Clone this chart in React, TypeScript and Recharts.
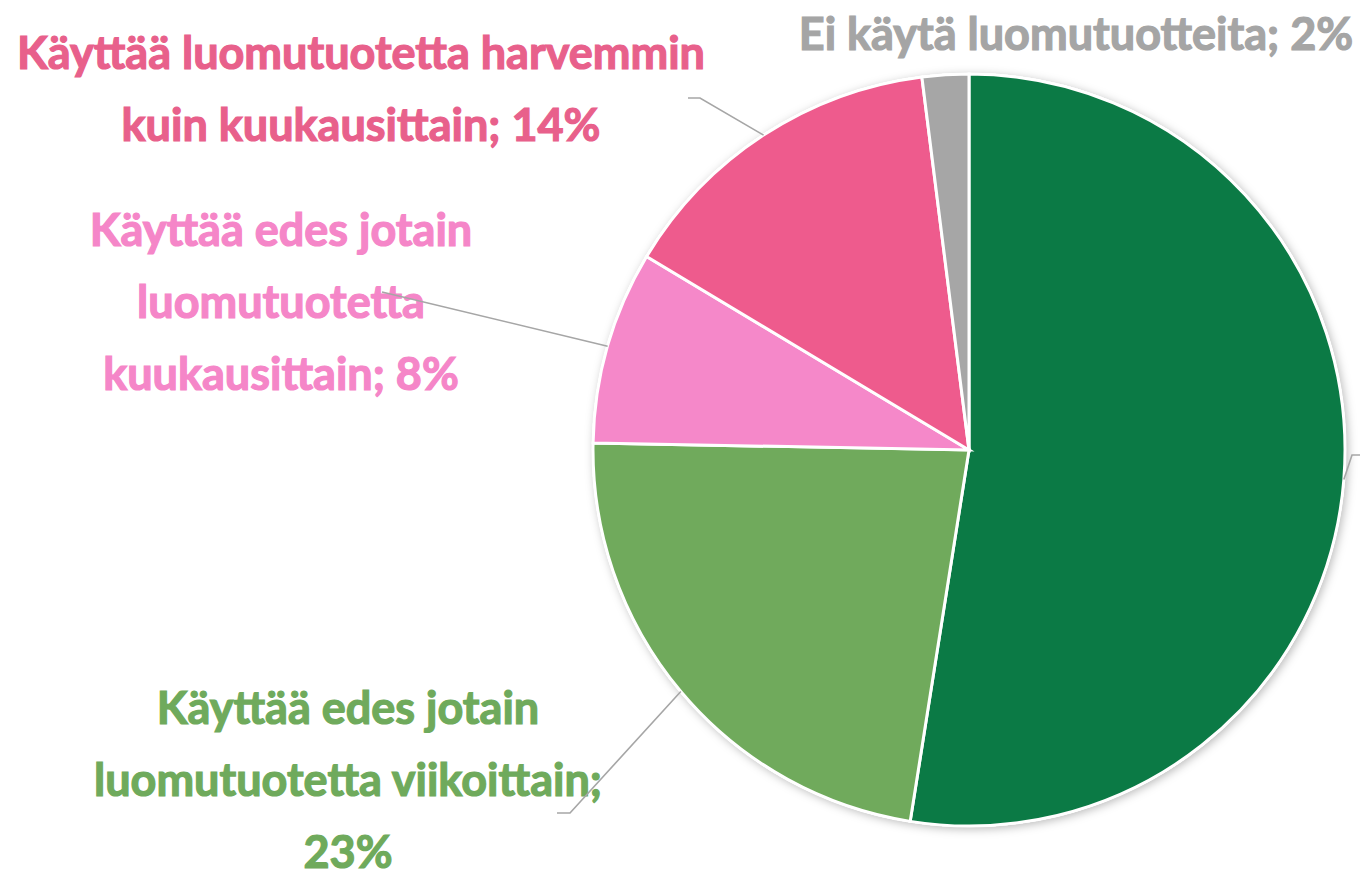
import React from 'react';
import { PieChart, Pie, Cell } from 'recharts';

// slice names, clockwise from 12 o'clock
const NAMES = [
  'Käyttää luomutuotteita päivittäin',
  'Käyttää edes jotain|luomutuotetta viikoittain',
  'Käyttää edes jotain|luomutuotetta|kuukausittain',
  'Käyttää luomutuotetta harvemmin|kuin kuukausittain',
  'Ei käytä luomutuotteita',
];
const VALUES = [52.5, 22.8, 8.3, 14.4, 2.0];
const COLORS = ['#0B7A45', '#70AA5C', '#F588C9', '#EE5B8D', '#A6A6A6'];
const TEXT_COLORS = ['#0B7A45', '#6FAA5C', '#F586C8', '#E8608B', '#A5A5A5'];

const data = NAMES.map((name, i) => ({ name, value: VALUES[i] }));

// label placement (center x, first baseline, leader line elbow / end)
// the first label sits outside the visible area, only its leader line shows
const LABEL_LAYOUT = [
  { x: 1378, y: 468, anchor: 'start', elbow: [1352, 455], end: [1372, 455], pctNewLine: false, hidden: true },
  { x: 348, y: 724, anchor: 'middle', elbow: [570, 813], end: [557, 813], pctNewLine: true, hidden: false },
  { x: 281, y: 246, anchor: 'middle', elbow: null, end: [382, 292], pctNewLine: false, hidden: false },
  { x: 361, y: 69, anchor: 'middle', elbow: [700, 98], end: [688, 98], pctNewLine: false, hidden: false },
  { x: 1076, y: 50, anchor: 'middle', elbow: null, end: null, pctNewLine: false, hidden: false },
];

const FONT = 'Lato, "Open Sans", sans-serif';
const LINE_H = 72;
const RAD = Math.PI / 180;

const renderLabel = (props: any) => {
  const { cx, cy, midAngle, outerRadius, index, name, value } = props;
  const cfg = LABEL_LAYOUT[index];
  const pct = `${Math.round(value)}%`;
  let lines: string[] = name.split('|');
  if (cfg.pctNewLine) {
    lines[lines.length - 1] += ';';
    lines.push(pct);
  } else {
    lines[lines.length - 1] += `; ${pct}`;
  }
  const sx = cx + outerRadius * Math.cos(-midAngle * RAD);
  const sy = cy + outerRadius * Math.sin(-midAngle * RAD);
  let pts = '';
  if (cfg.end) {
    pts = cfg.elbow
      ? `${sx},${sy} ${cfg.elbow[0]},${cfg.elbow[1]} ${cfg.end[0]},${cfg.end[1]}`
      : `${sx},${sy} ${cfg.end[0]},${cfg.end[1]}`;
  }
  return (
    <g key={`lbl-${index}`}>
      {!cfg.hidden && (
        <text
          x={cfg.x}
          y={cfg.y}
          textAnchor={cfg.anchor}
          fill={TEXT_COLORS[index]}
          stroke={TEXT_COLORS[index]}
          strokeWidth={1.2}
          fontFamily={FONT}
          fontWeight={700}
          fontSize={45}
        >
          {lines.map((l, i) => (
            <tspan key={i} x={cfg.x} y={cfg.y + i * LINE_H}>{l}</tspan>
          ))}
        </text>
      )}
      {pts && <polyline points={pts} fill="none" stroke="#A6A6A6" strokeWidth={1.6} />}
    </g>
  );
};

export default function App() {
  return (
    <div style={{ position: 'fixed', left: 0, top: 0, width: 1360, height: 880, background: '#fff' }}>
      <PieChart width={1360} height={880} margin={{ top: 0, right: 0, bottom: 0, left: 0 }}>
        <defs>
          <filter id="pieShadow" x="-10%" y="-10%" width="120%" height="120%">
            <feDropShadow dx="2" dy="2" stdDeviation="5" floodColor="#000" floodOpacity="0.28" />
          </filter>
        </defs>
        {/* backdrop disc carrying the soft shadow */}
        <Pie
          data={[{ name: 'bg', value: 1 }]}
          dataKey="value"
          cx={969}
          cy={450}
          outerRadius={377}
          startAngle={90}
          endAngle={-270}
          stroke="none"
          isAnimationActive={false}
          legendType="none"
        >
          <Cell fill="#fff" filter="url(#pieShadow)" />
        </Pie>
        <Pie
          data={data}
          dataKey="value"
          nameKey="name"
          cx={969}
          cy={450}
          outerRadius={376}
          startAngle={90}
          endAngle={-270}
          stroke="#fff"
          strokeWidth={3}
          label={renderLabel}
          labelLine={false}
          isAnimationActive={false}
        >
          {data.map((d, i) => (
            <Cell key={d.name} fill={COLORS[i]} />
          ))}
        </Pie>
      </PieChart>
    </div>
  );
}
